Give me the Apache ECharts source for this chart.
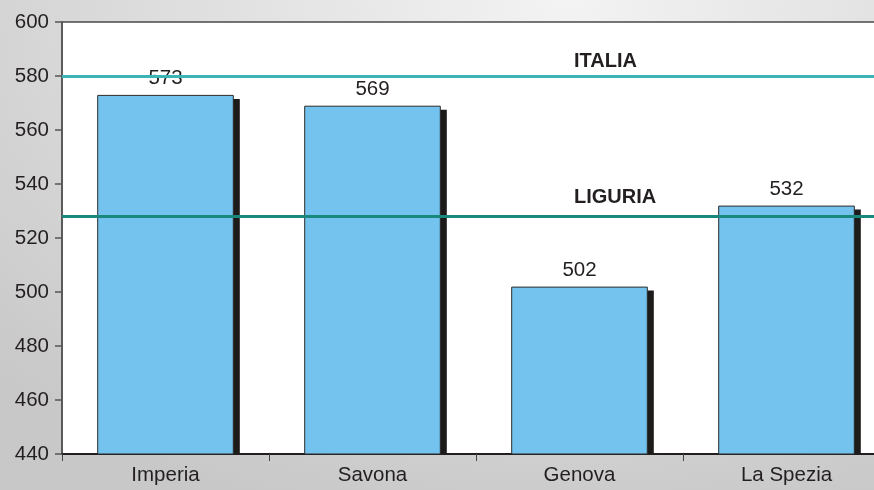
<!DOCTYPE html>
<html>
<head>
<meta charset="utf-8">
<script src="https://cdn.jsdelivr.net/npm/echarts@6/dist/echarts.min.js"></script>
<style>
  html, body { margin: 0; padding: 0; }
  #chart {
    width: 874px; height: 490px;
    background: radial-gradient(ellipse 90% 110% at 65% 0%, #f3f3f3 0%, #dcdcdc 55%, #c8c8c8 100%);
  }
</style>
</head>
<body>
<div id="chart"></div>
<script>
const categories = ['Imperia', 'Savona', 'Genova', 'La Spezia'];
const values = [573, 569, 502, 532];
const refNames = ['ITALIA', 'LIGURIA'];
const refValues = [580, 528];
const yTicks = { min: 440, max: 600, interval: 20 };

const FONT = '"Liberation Sans", Arial, sans-serif';
const TEXT = '#231f20';
const BAR_RATIO = 0.66;
const YMIN = yTicks.min;

const chart = echarts.init(document.getElementById('chart'), null, { renderer: 'canvas' });

chart.setOption({
  backgroundColor: 'transparent',
  animation: false,
  textStyle: { fontFamily: FONT },
  grid: {
    left: 62, width: 828, top: 22, height: 432,
    outerBoundsMode: 'none',
    containLabel: false,
    show: true, backgroundColor: '#ffffff',
    borderColor: '#4a4a4a', borderWidth: 1.5
  },
  xAxis: {
    type: 'category',
    data: categories,
    axisLine: { lineStyle: { color: '#231f20', width: 2 } },
    axisTick: { show: true, length: 7, lineStyle: { color: '#444444', width: 1 } },
    axisLabel: { color: TEXT, fontSize: 20.5, fontFamily: FONT, margin: 11 }
  },
  yAxis: {
    type: 'value',
    min: yTicks.min, max: yTicks.max, interval: yTicks.interval,
    splitLine: { show: false },
    axisLine: { show: true, lineStyle: { color: '#555555', width: 1.5 } },
    axisTick: { show: true, length: 7, lineStyle: { color: '#555555', width: 1.5 } },
    axisLabel: { color: TEXT, fontSize: 20.5, fontFamily: FONT, margin: 13 }
  },
  series: [
    {
      type: 'custom',
      z: 1,
      silent: true,
      data: values.map((v, i) => [i, v]),
      renderItem: function (params, api) {
        const cat = api.value(0), val = api.value(1);
        const top = api.coord([cat, val]);
        const bottom = api.coord([cat, YMIN]);
        const bw = api.size([1, 0])[0] * BAR_RATIO;
        const dx = 6, dy = 4;
        return {
          type: 'rect',
          shape: { x: top[0] - bw / 2 + dx, y: top[1] + dy, width: bw, height: bottom[1] - top[1] - dy },
          style: { fill: '#1d1a1a' }
        };
      }
    },
    {
      type: 'bar',
      z: 3,
      data: values,
      barWidth: (BAR_RATIO * 100) + '%',
      itemStyle: { color: '#74c3ee', borderColor: '#2b2b2b', borderWidth: 1 },
      label: {
        show: true, position: 'top', distance: 6,
        color: TEXT, fontSize: 20.5, fontFamily: FONT
      },
      markLine: {
        silent: true,
        symbol: 'none',
        animation: false,
        data: [
          {
            name: refNames[0], yAxis: refValues[0],
            lineStyle: { color: '#3bb4b6', width: 3, type: 'solid' },
            label: { show: true, position: 'insideStartTop', distance: [512, 5], formatter: refNames[0],
                     color: TEXT, fontSize: 20, fontWeight: 'bold', fontFamily: FONT }
          },
          {
            name: refNames[1], yAxis: refValues[1],
            lineStyle: { color: '#17887b', width: 3, type: 'solid' },
            label: { show: true, position: 'insideStartTop', distance: [512, 9], formatter: refNames[1],
                     color: TEXT, fontSize: 20, fontWeight: 'bold', fontFamily: FONT }
          }
        ]
      }
    }
  ]
});
</script>
</body>
</html>
